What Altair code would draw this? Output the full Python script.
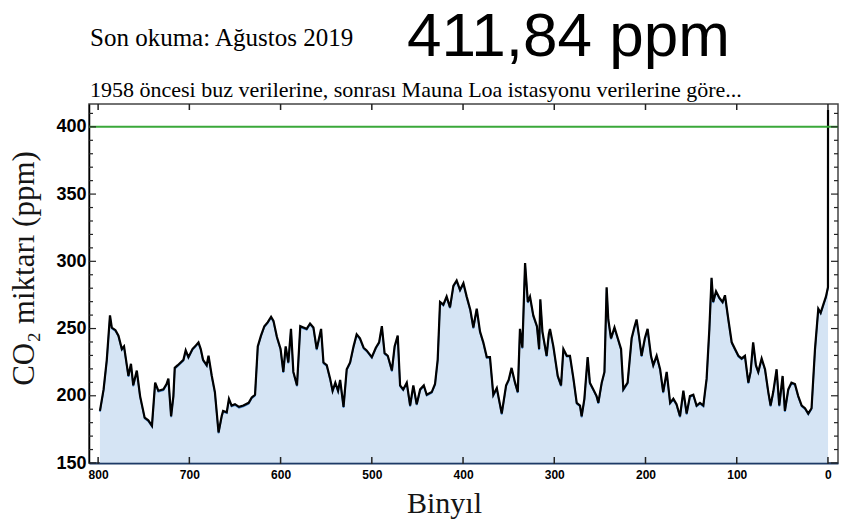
import altair as alt
import pandas as pd

# Ice-core CO2 record, ages in thousands of years before present (kyr), ppm
age_kyr = [
    798, 794, 790.5, 787, 785, 781, 777.7, 774, 771.6, 766.8, 764, 761.5, 757.6, 754,
    749, 745, 741, 737.5, 734, 728.4, 725, 723, 720, 717.5, 716, 712.7, 706.5, 704,
    701, 696.6, 693.7, 690, 687.5, 685, 681, 679, 675.4, 672, 668, 664.6, 663, 659,
    656.6, 653.7, 650, 645.6, 640.8, 635, 631.6, 628, 625, 621.5, 617.8, 614, 610.4,
    607.8, 604, 600, 597, 594.4, 591.5, 588.6, 586, 582, 578.4, 575, 571.4, 567.7,
    564, 560.4, 555.6, 553, 549.4, 545.7, 543, 540, 537, 534.7, 531, 527.5, 523.8,
    520, 516.6, 513, 509, 505.7, 500, 495.6, 492, 489, 486, 482.5, 478, 475, 471.6,
    469, 465.6, 461.7, 458, 454.5, 450.8, 447, 443, 439.8, 434.3, 430.7, 427.8,
    425.2, 421.6, 418, 414.3, 410.6, 407, 403.3, 399.6, 396, 392, 388.7, 385, 381.4,
    377.8, 374, 370.5, 366.8, 363, 357.6, 352.8, 350, 346.8, 343, 340, 337.6, 335,
    332, 329, 326.6, 323, 319, 316.6, 315.3, 313, 308.4, 306, 304.7, 301, 296.2,
    292.6, 290, 286.3, 282.8, 279, 275.4, 271.8, 270, 267, 263.4, 261, 257.2, 253.6,
    251.7, 248, 245, 242.6, 240.8, 237.8, 234, 230.4, 226.8, 224.3, 219.6, 215.2,
    212.3, 209.8, 207.2, 204.3, 200.7, 197.7, 194, 191.5, 187.8, 184, 180.6, 176.8,
    173, 169.5, 166, 162.2, 158.5, 154.9, 151.3, 147.6, 144, 140.3, 136.6, 133, 130,
    127.6, 125.8, 122.7, 119, 115.5, 112.9, 109.2, 105.5, 101.9, 98.2, 94.6, 91,
    87.3, 84.8, 82, 79, 76.4, 72.7, 69, 65.4, 62.9, 60, 56.3, 53.4, 49.7, 47.2, 43.5,
    40, 36.2, 32.6, 28.8, 25.2, 21.6, 18, 14.2, 10.6, 8, 5.1, 2.2, 0,
]
co2_ppm = [
    188, 204, 226, 259, 250, 248, 244, 234, 236, 214, 223, 207, 218, 199,
    183, 181, 177, 209, 203, 204, 208, 212, 184, 199, 220, 222, 226, 233,
    228, 234, 236, 239, 234, 226, 222, 229, 214, 202, 172, 184, 188, 187,
    197, 192, 193, 191, 192, 194, 198, 200, 236, 244, 251, 254, 258,
    255, 243, 234, 217, 236, 224, 249, 217, 207, 251, 250, 249, 253,
    250, 234, 249, 224, 222, 212, 203, 209, 203, 211, 191, 219, 224,
    236, 245, 242, 235, 233, 228, 235, 239, 251, 231, 229, 218, 236, 244,
    207, 204, 209, 192, 207, 193, 204, 207, 200, 202, 208, 226,
    269, 267, 273, 265, 281, 285, 278, 283, 273, 263, 250, 264, 247,
    239, 228, 228, 200, 205, 186, 207, 211, 220, 209, 202, 249, 235,
    298, 269, 273, 259, 251, 234, 271, 247, 229, 245, 249, 236, 214,
    207, 234, 229, 229, 212, 194, 192, 184, 197, 228, 209, 204, 199,
    194, 209, 217, 280, 256, 242, 250, 242, 234, 204, 209, 242,
    250, 256, 244, 229, 242, 249, 229, 222, 229, 219, 202, 217,
    194, 197, 193, 184, 203, 186, 199, 200, 192, 194, 192, 212, 249,
    287, 269, 277, 272, 269, 274, 256, 239, 234, 229, 227, 229,
    209, 217, 239, 222, 217, 227, 219, 202, 192, 202, 219, 192, 214, 188, 204,
    209, 208, 199, 192, 190, 186, 190, 234, 264, 261, 267, 273, 280,
]

# Mauna Loa reading, August 2019
latest_age = [-0.069]
latest_ppm = [411.84]

reference_level = [400]
x_ticks = [800, 700, 600, 500, 400, 300, 200, 100, 0]
y_major = [150, 200, 250, 300, 350, 400]
y_minor = [v for v in range(150, 420, 10) if v % 50]

header_left = "Son okuma: Ağustos 2019"
header_value = "411,84 ppm"
header_note = "1958 öncesi buz verilerine, sonrası Mauna Loa istasyonu verilerine göre..."

W, H = 749, 359

series = pd.DataFrame({"age": age_kyr + latest_age, "co2": co2_ppm + latest_ppm})
level = pd.DataFrame({"co2": reference_level})
xt = pd.DataFrame({"age": x_ticks})
ymaj = pd.DataFrame({"co2": y_major})
ymin = pd.DataFrame({"co2": y_minor})

x_scale = alt.Scale(domain=[810, -11], nice=False, zero=False)
y_scale = alt.Scale(domain=[150, 417], nice=False, zero=False)

x_axis = alt.Axis(
    values=x_ticks, format="d", grid=False, ticks=False,
    labelFont="Liberation Sans", labelFontWeight="bold", labelFontSize=12,
    labelColor="black", labelPadding=6,
    domainColor="#1d3a66", domainWidth=2,
    title="Binyıl", titleFont="Liberation Serif", titleFontSize=30,
    titleFontWeight="normal", titleColor="#151515",
    titleX=355, titleY=49, titleAlign="center", titleBaseline="alphabetic",
)
y_axis = alt.Axis(
    values=y_major, grid=False, ticks=False, labelOverlap=False,
    labelFont="Liberation Sans", labelFontWeight="bold", labelFontSize=18,
    labelColor="black", labelPadding=3,
    domainColor="black", domainWidth=1.5,
    title="CO₂ miktarı (ppm)", titleFont="Liberation Serif", titleFontSize=31,
    titleFontWeight="normal", titleColor="#151515",
    titleX=-56, titleY=164, titleAngle=270, titleAlign="center",
    titleBaseline="alphabetic",
)

area = alt.Chart(series).mark_area(
    color="#c3d9f0", line={"color": "#3f7fc8", "strokeWidth": 1.5}
).encode(
    x=alt.X("age:Q", scale=x_scale, axis=x_axis),
    y=alt.Y("co2:Q", scale=y_scale, axis=y_axis),
    y2=alt.datum(150),
)

trace = alt.Chart(series).mark_line(
    color="black", strokeWidth=2.2, yOffset=-1
).encode(x="age:Q", y="co2:Q")

green = alt.Chart(level).mark_rule(color="#3aa83a", strokeWidth=2).encode(y="co2:Q")

# Inward tick marks on all four sides of the frame
def x_tick(y0, y1):
    return alt.Chart(xt).mark_rule(color="#222", strokeWidth=1.5).encode(
        x="age:Q", y=alt.value(y0), y2=alt.value(y1)
    )

def y_tick(frame, x0, x1):
    return alt.Chart(frame).mark_rule(color="#222", strokeWidth=1.2).encode(
        y="co2:Q", x=alt.value(x0), x2=alt.value(x1)
    )

ticks = [
    x_tick(H + 1, H - 6), x_tick(0, 6),
    y_tick(ymaj, 0, 7), y_tick(ymin, 0, 4),
    y_tick(ymaj, W, W - 7), y_tick(ymin, W, W - 4),
]

def header(text, x, y, size, font):
    return alt.Chart(pd.DataFrame({"t": [text]})).mark_text(
        align="left", baseline="alphabetic", font=font, fontSize=size, color="black"
    ).encode(text="t:N", x=alt.value(x), y=alt.value(y))

chart = alt.layer(
    area, trace, green, *ticks,
    header(header_left, 1, -58, 25, "Liberation Serif"),
    header(header_value, 318, -48, 62, "Liberation Sans"),
    header(header_note, 1, -7, 22, "Liberation Serif"),
).properties(
    width=W, height=H,
    autosize=alt.AutoSizeParams(type="none"),
    padding={"left": 89, "top": 104, "right": 4, "bottom": 61},
).configure_view(stroke="#444", strokeWidth=1.5)

chart.save("out.html", embed_options={"renderer": "svg", "actions": False})
